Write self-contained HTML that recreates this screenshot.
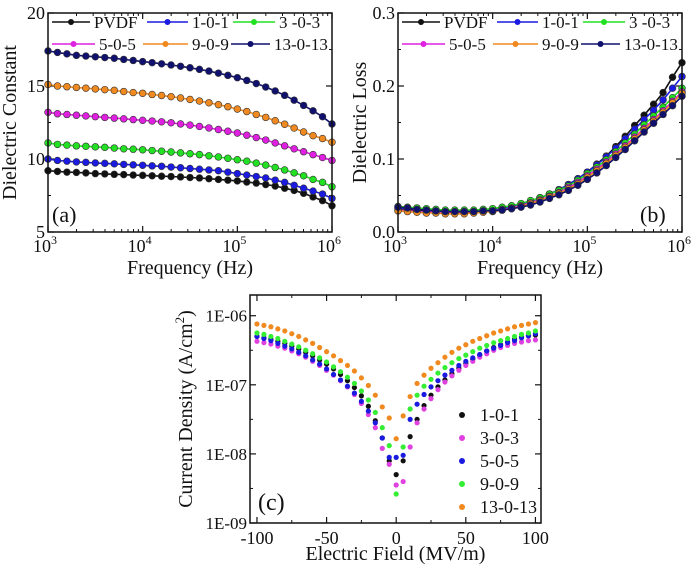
<!DOCTYPE html>
<html><head><meta charset="utf-8">
<style>
html,body{margin:0;padding:0;background:#fff;}
svg{display:block;}
svg text{font-family:"Liberation Serif","Times New Roman",serif;}
</style></head>
<body>
<svg id="fig" width="700" height="574" viewBox="0 0 700 574" xmlns="http://www.w3.org/2000/svg" font-family="Liberation Serif, serif"></svg>
<script>
// ---------- Data ----------
const seriesNames = ["PVDF","1-0-1","3 -0-3","5-0-5","9-0-9","13-0-13"];
const seriesColors = ["#111111","#1a1ae0","#22e022","#e020e0","#f08a20","#10106e"];
const freqLog = [3.0,3.1,3.2,3.3,3.4,3.5,3.6,3.7,3.8,3.9,4.0,4.1,4.2,4.3,4.4,4.5,4.6,4.7,4.8,4.9,5.0,5.1,5.2,5.3,5.4,5.5,5.6,5.7,5.8,5.9,6.0];
const epsPVDF = [9.2,9.15,9.1,9.08,9.05,9.0,8.98,8.95,8.93,8.9,8.88,8.85,8.82,8.8,8.77,8.73,8.7,8.65,8.6,8.55,8.5,8.42,8.35,8.25,8.15,8.0,7.85,7.65,7.4,7.15,6.8];
const eps101 = [10.0,9.9,9.85,9.8,9.77,9.73,9.7,9.67,9.63,9.6,9.57,9.53,9.5,9.45,9.4,9.35,9.3,9.25,9.2,9.1,9.0,8.9,8.8,8.7,8.55,8.4,8.2,8.0,7.8,7.6,7.3];
const eps303 = [11.1,11.0,10.95,10.9,10.87,10.83,10.8,10.75,10.7,10.67,10.63,10.58,10.53,10.48,10.42,10.36,10.3,10.22,10.14,10.05,9.95,9.85,9.72,9.58,9.42,9.25,9.05,8.85,8.6,8.4,8.1];
const eps505 = [13.2,13.1,13.05,13.0,12.95,12.9,12.85,12.8,12.75,12.7,12.65,12.6,12.55,12.48,12.4,12.32,12.23,12.13,12.02,11.9,11.78,11.63,11.47,11.3,11.1,10.9,10.7,10.5,10.3,10.1,9.9];
const eps909 = [15.1,15.0,14.95,14.9,14.85,14.8,14.75,14.7,14.62,14.55,14.5,14.42,14.35,14.27,14.18,14.08,13.97,13.85,13.72,13.58,13.42,13.25,13.05,12.85,12.62,12.38,12.12,11.85,11.6,11.4,11.15];
const eps13 = [17.4,17.3,17.2,17.1,17.05,17.0,16.95,16.9,16.82,16.75,16.67,16.6,16.52,16.44,16.35,16.25,16.14,16.02,15.88,15.73,15.57,15.38,15.17,14.93,14.66,14.36,14.03,13.67,13.3,12.9,12.4];
const lossPVDF = [0.032,0.031,0.030,0.029,0.029,0.028,0.028,0.028,0.029,0.030,0.031,0.033,0.035,0.038,0.042,0.047,0.052,0.058,0.065,0.073,0.082,0.093,0.104,0.117,0.131,0.146,0.160,0.175,0.191,0.212,0.232];
const loss101 = [0.033,0.032,0.031,0.030,0.029,0.029,0.028,0.028,0.029,0.030,0.031,0.033,0.035,0.038,0.042,0.047,0.052,0.058,0.065,0.073,0.082,0.092,0.103,0.115,0.128,0.141,0.154,0.167,0.181,0.197,0.213];
const loss303 = [0.035,0.034,0.033,0.032,0.031,0.030,0.030,0.030,0.030,0.031,0.032,0.034,0.036,0.039,0.043,0.047,0.052,0.057,0.063,0.071,0.080,0.089,0.099,0.110,0.122,0.134,0.147,0.159,0.171,0.184,0.197];
const loss505 = [0.030,0.029,0.028,0.027,0.027,0.026,0.026,0.026,0.027,0.028,0.029,0.031,0.033,0.036,0.040,0.044,0.049,0.054,0.061,0.068,0.077,0.086,0.096,0.107,0.118,0.130,0.142,0.154,0.166,0.179,0.192];
const loss909 = [0.029,0.028,0.027,0.026,0.026,0.025,0.025,0.025,0.026,0.027,0.028,0.030,0.032,0.035,0.039,0.043,0.048,0.053,0.059,0.066,0.075,0.084,0.094,0.105,0.116,0.128,0.140,0.152,0.164,0.177,0.190];
const loss13 = [0.034,0.033,0.031,0.030,0.029,0.028,0.028,0.028,0.028,0.029,0.029,0.030,0.032,0.034,0.037,0.041,0.046,0.051,0.057,0.064,0.072,0.081,0.091,0.102,0.113,0.125,0.137,0.149,0.161,0.173,0.186];

const jvNames = ["1-0-1","3-0-3","5-0-5","9-0-9","13-0-13"];
const jvColors = ["#111111","#e040e0","#1a1ae0","#33ee33","#f08a20"];
const field = [-100,-95,-90,-85,-80,-75,-70,-65,-60,-55,-50,-45,-40,-35,-30,-25,-20,-15,-10,-5,0,5,10,15,20,25,30,35,40,45,50,55,60,65,70,75,80,85,90,95,100];
const logJ101 = [-6.30,-6.32,-6.34,-6.37,-6.40,-6.44,-6.48,-6.53,-6.58,-6.64,-6.70,-6.77,-6.85,-6.94,-7.04,-7.16,-7.31,-7.52,-7.77,-8.10,-8.30,-8.10,-7.75,-7.50,-7.30,-7.15,-7.03,-6.93,-6.84,-6.76,-6.69,-6.63,-6.57,-6.51,-6.46,-6.42,-6.38,-6.34,-6.31,-6.29,-6.28];
const logJ303 = [-6.37,-6.39,-6.41,-6.44,-6.47,-6.51,-6.55,-6.60,-6.66,-6.72,-6.79,-6.86,-6.94,-7.03,-7.14,-7.27,-7.43,-7.62,-7.92,-8.15,-8.45,-8.40,-7.90,-7.55,-7.35,-7.20,-7.07,-6.96,-6.87,-6.79,-6.72,-6.66,-6.60,-6.55,-6.50,-6.46,-6.43,-6.40,-6.38,-6.36,-6.35];
const logJ505 = [-6.30,-6.33,-6.36,-6.40,-6.44,-6.48,-6.53,-6.58,-6.64,-6.70,-6.77,-6.85,-6.93,-7.02,-7.12,-7.24,-7.38,-7.55,-7.77,-8.05,-8.05,-8.02,-7.50,-7.28,-7.14,-7.03,-6.94,-6.86,-6.79,-6.72,-6.66,-6.61,-6.56,-6.51,-6.47,-6.43,-6.39,-6.36,-6.32,-6.29,-6.26];
const logJ909 = [-6.25,-6.27,-6.30,-6.33,-6.37,-6.41,-6.45,-6.50,-6.55,-6.61,-6.67,-6.74,-6.81,-6.89,-6.98,-7.09,-7.22,-7.40,-7.62,-7.88,-8.58,-7.90,-7.35,-7.15,-7.02,-6.92,-6.83,-6.75,-6.68,-6.62,-6.57,-6.52,-6.47,-6.43,-6.39,-6.36,-6.33,-6.30,-6.27,-6.25,-6.22];
const logJ13 = [-6.12,-6.14,-6.16,-6.19,-6.22,-6.26,-6.30,-6.35,-6.40,-6.46,-6.52,-6.58,-6.65,-6.72,-6.80,-6.90,-7.01,-7.15,-7.32,-7.48,-7.78,-7.45,-7.17,-6.98,-6.86,-6.76,-6.68,-6.60,-6.53,-6.47,-6.42,-6.37,-6.33,-6.29,-6.25,-6.22,-6.19,-6.16,-6.14,-6.12,-6.10];

const epsData = [epsPVDF,eps101,eps303,eps505,eps909,eps13];
const lossData = [lossPVDF,loss101,loss303,loss505,loss909,loss13];
const jvData = [logJ101,logJ303,logJ505,logJ909,logJ13];

// ---------- Helpers ----------
const NS = "http://www.w3.org/2000/svg";
const svg = document.getElementById("fig");
function mk(tag, attrs, parent){
  const e = document.createElementNS(NS, tag);
  for (const k in attrs) e.setAttribute(k, attrs[k]);
  (parent||svg).appendChild(e);
  return e;
}
function txt(str, x, y, size, anchor, parent){
  const t = mk("text", {x:x, y:y, "font-size":size, "text-anchor":anchor||"middle", fill:"#111", "font-family":"Liberation Serif, serif"}, parent);
  t.textContent = str;
  return t;
}
function scale(d0,d1,r0,r1){ return v => r0 + (v-d0)/(d1-d0)*(r1-r0); }

// ---------- Frequency panels ----------
function freqPanel(opts){
  const g = mk("g", {});
  
  
  const L=opts.left, R=opts.right, T=13, B=232;
  const xs = scale(3,6,L,R), ys = scale(opts.ymin,opts.ymax,B,T);
  for (let d=3; d<6; d++){
    for (let m=2; m<10; m++){
      const x = xs(d+Math.log10(m));
      mk("line",{x1:x,y1:B,x2:x,y2:B-3,stroke:"#111","stroke-width":1},g);
      mk("line",{x1:x,y1:T,x2:x,y2:T+3,stroke:"#111","stroke-width":1},g);
    }
  }
  for (let d=3; d<=6; d++){
    const x = xs(d);
    mk("line",{x1:x,y1:B,x2:x,y2:B-6,stroke:"#111","stroke-width":1.2},g);
    mk("line",{x1:x,y1:T,x2:x,y2:T+6,stroke:"#111","stroke-width":1.2},g);
    const t = txt("10",x-3,B+20,18,"middle",g);
    
    
    const s = mk("tspan",{dy:-8,"font-size":12},t); s.textContent = String(d);
  }
  opts.yticks.forEach((v,i)=>{
    const y = ys(v);
    mk("line",{x1:L,y1:y,x2:L+6,y2:y,stroke:"#111","stroke-width":1.2},g);
    mk("line",{x1:R,y1:y,x2:R-6,y2:y,stroke:"#111","stroke-width":1.2},g);
    const t = txt(opts.ylabels[i],L-3,y+6,18,"end",g);
    
    
  });
  opts.yminor.forEach(v=>{
    const y = ys(v);
    mk("line",{x1:L,y1:y,x2:L+3,y2:y,stroke:"#111","stroke-width":1},g);
    mk("line",{x1:R,y1:y,x2:R-3,y2:y,stroke:"#111","stroke-width":1},g);
  });
  opts.data.forEach((arr,si)=>{
    const sg = mk("g",{},g);
    
    
    const pts = arr.map((v,i)=>xs(freqLog[i]).toFixed(1)+","+ys(v).toFixed(1)).join(" ");
    mk("polyline",{points:pts,fill:"none",stroke:seriesColors[si],"stroke-width":1.6},sg);
    arr.forEach((v,i)=>{
      const c = mk("circle",{cx:xs(freqLog[i]),cy:ys(v),r:3.4,fill:seriesColors[si],stroke:"#333","stroke-width":0.6},sg);
      
      
    });
  });
  mk("rect",{x:L,y:T,width:R-L,height:B-T,fill:"none",stroke:"#111","stroke-width":1.5},g);
  const lg = mk("g",{},g);
  
  
  const lx = [[L+4,L+99,L+185],[L+4,L+95,L+183]];
  const lw = [[38,41,42],[43,45,39]];
  for (let si=0; si<6; si++){
    const row = Math.floor(si/3), col = si%3;
    const x0 = lx[row][col], w = lw[row][col], y = row?44:22;
    const e = mk("g",{},lg);
    
    
    mk("line",{x1:x0,y1:y,x2:x0+w,y2:y,stroke:seriesColors[si],"stroke-width":1.6},e);
    mk("circle",{cx:x0+w/2,cy:y,r:3,fill:seriesColors[si]},e);
    txt(seriesNames[si],x0+w+4,y+6,17,"start",e);
  }
  const pl = txt(opts.label, opts.labelX, 222, 22, "start", g);
  
  
  const xt = txt("Frequency (Hz)",(L+R)/2,274,20,"middle",g);
  
  
  const yt = txt(opts.ytitle,0,0,20,"middle",g);
  yt.setAttribute("transform","translate("+opts.ytitleX+","+((T+B)/2)+") rotate(-90)");
  
  
}

freqPanel({name:"panel-a-dielectric-constant",left:48,right:332,ymin:5,ymax:20,
  yticks:[5,10,15,20],ylabels:["5","10","15","20"],yminor:[7.5,12.5,17.5],
  data:epsData,label:"(a)",labelX:52,ytitle:"Dielectric Constant",ytitleX:16});
freqPanel({name:"panel-b-dielectric-loss",left:398,right:682,ymin:0,ymax:0.3,
  yticks:[0,0.1,0.2,0.3],ylabels:["0.0","0.1","0.2","0.3"],yminor:[0.05,0.15,0.25],
  data:lossData,label:"(b)",labelX:640,ytitle:"Dielectric Loss",ytitleX:366});

// ---------- J-E panel ----------
(function(){
  const g = mk("g",{});
  
  
  const L=250,R=541,T=295,B=523;
  const xs = scale(-105,104,L,R), ys = scale(-9,-5.7,B,T);
  const xticks = [-100,-50,0,50,100];
  const xlabels = ["-100","-50","0","50","100"];
  xticks.forEach((v,i)=>{
    const x = xs(v);
    mk("line",{x1:x,y1:B,x2:x,y2:B-6,stroke:"#111","stroke-width":1.2},g);
    mk("line",{x1:x,y1:T,x2:x,y2:T+6,stroke:"#111","stroke-width":1.2},g);
    const t = txt(xlabels[i],x,B+21,18,"middle",g);
    
    
  });
  [-75,-25,25,75].forEach(v=>{
    const x = xs(v);
    mk("line",{x1:x,y1:B,x2:x,y2:B-3,stroke:"#111","stroke-width":1},g);
    mk("line",{x1:x,y1:T,x2:x,y2:T+3,stroke:"#111","stroke-width":1},g);
  });
  const yticks=[-9,-8,-7,-6], ylabels=["1E-09","1E-08","1E-07","1E-06"];
  yticks.forEach((v,i)=>{
    const y = ys(v);
    mk("line",{x1:L,y1:y,x2:L+6,y2:y,stroke:"#111","stroke-width":1.2},g);
    mk("line",{x1:R,y1:y,x2:R-6,y2:y,stroke:"#111","stroke-width":1.2},g);
    const t = txt(ylabels[i],L-3,y+6,17,"end",g);
    
    
  });
  [-8.5,-7.5,-6.5].forEach(v=>{
    const y = ys(v);
    mk("line",{x1:L,y1:y,x2:L+3,y2:y,stroke:"#111","stroke-width":1},g);
    mk("line",{x1:R,y1:y,x2:R-3,y2:y,stroke:"#111","stroke-width":1},g);
  });
  jvData.forEach((arr,si)=>{
    const sg = mk("g",{},g);
    
    
    arr.forEach((v,i)=>{
      const c = mk("circle",{cx:xs(field[i]),cy:ys(v),r:2.6,fill:jvColors[si]},sg);
      
      
    });
  });
  mk("rect",{x:L,y:T,width:R-L,height:B-T,fill:"none",stroke:"#111","stroke-width":1.5},g);
  const lg = mk("g",{},g);
  
  
  jvNames.forEach((n,i)=>{
    const y = 415 + i*23;
    const e = mk("g",{},lg);
    
    
    mk("circle",{cx:462,cy:y,r:3,fill:jvColors[i]},e);
    txt(n,480,y+6,18,"start",e);
  });
  const pl = txt("(c)",258,510,24,"start",g);
  
  
  const xt = txt("Electric Field (MV/m)",(L+R)/2,560,20,"middle",g);
  
  
  const yt = txt("Current Density (A/cm",0,0,20,"middle",g);
  const sup = mk("tspan",{dy:-8,"font-size":13},yt); sup.textContent="2";
  const cl = mk("tspan",{dy:8},yt); cl.textContent=")";
  yt.setAttribute("transform","translate(192,"+((T+B)/2)+") rotate(-90)");
  
  
})();
</script>
</body></html>
